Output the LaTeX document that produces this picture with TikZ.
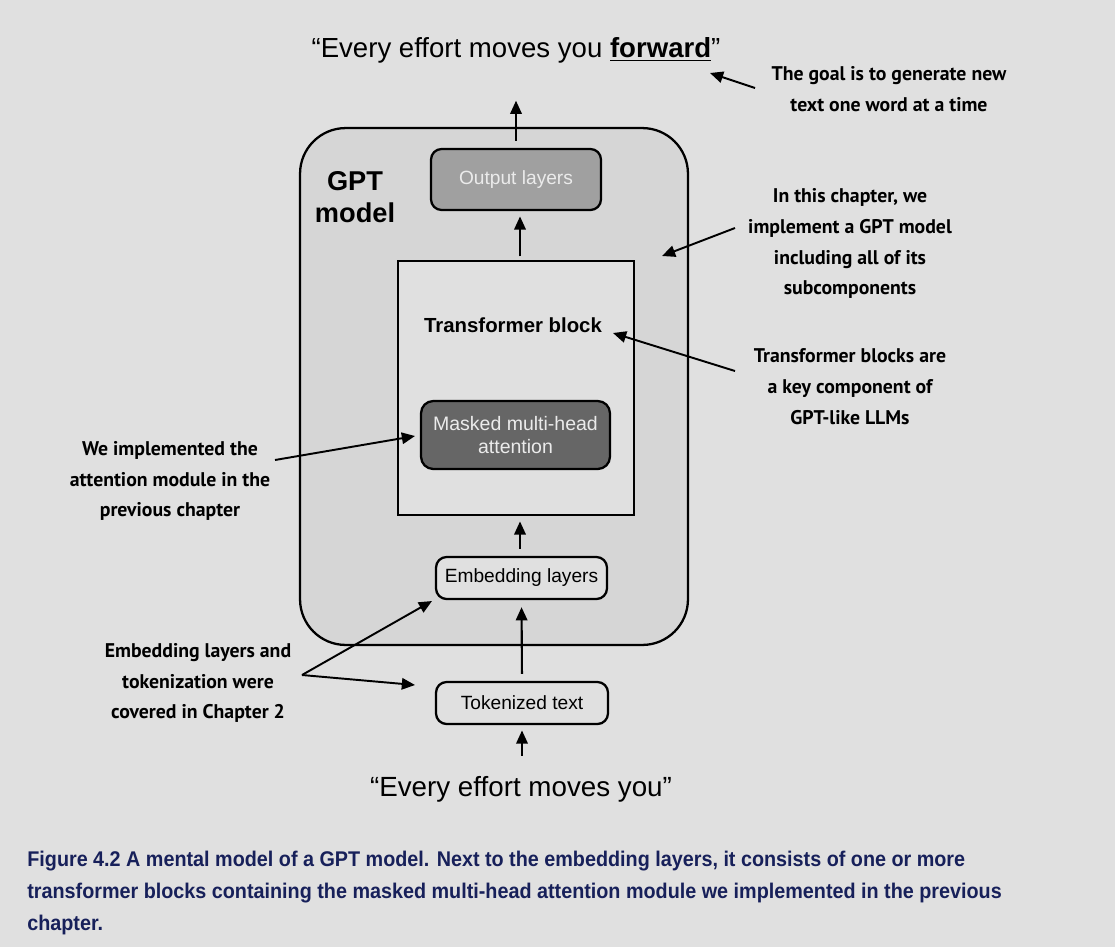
\documentclass[tikz,border=0pt]{standalone}
\usepackage{fontspec}
\setmainfont{Liberation Sans}
\newfontfamily\annfont{PT Sans}
\newfontfamily\capfont[FakeStretch=0.93]{Liberation Sans}
\usetikzlibrary{arrows.meta}
\definecolor{bg}{HTML}{E0E0E0}
\definecolor{gptfill}{HTML}{D6D6D6}
\definecolor{outfill}{HTML}{A0A0A0}
\definecolor{outtext}{HTML}{EBEBEB}
\definecolor{maskfill}{HTML}{666666}
\definecolor{capcol}{HTML}{17205A}
\tikzset{
  box/.style={draw=black, line width=1.3pt, rounded corners=6pt, inner sep=0pt, align=center},
  flow/.style={line width=1.2pt, -{Triangle[length=7.5pt,width=6.5pt]}},
  note/.style={line width=1.1pt, -{Triangle[length=7.5pt,width=6.5pt]}},
  ann/.style={font=\annfont\bfseries\fontsize{11.25}{17.6}\selectfont, align=center, text=black},
  boxtext/.style={font=\fontsize{10.9}{12.6}\selectfont},
}
\begin{document}
\begin{tikzpicture}[x=0.02cm, y=-0.02cm]
\fill[bg] (0,0) rectangle (1115,947);
\useasboundingbox (0,0) rectangle (1115,947);

% outer GPT model box
\node[draw=black, line width=1.3pt, fill=gptfill, rounded corners=26pt,
      minimum width=7.76cm, minimum height=10.34cm] (gpt) at (494,386.5) {};
\node[font=\bfseries\fontsize{15.5}{18}\selectfont, align=center] (gptlabel) at (355,197) {GPT\\model};

% output layers
\node[box, boxtext, fill=outfill, text=outtext,
      minimum width=3.4cm, minimum height=1.22cm] (out) at (516,179.5) {Output layers};

% transformer block
\node[draw=black, line width=1.3pt, fill=bg, minimum width=4.72cm, minimum height=5.08cm] (trans) at (516,388) {};
\node[font=\bfseries\fontsize{11.6}{13}\selectfont] (translabel) at (513,325) {Transformer block};

% masked multi-head attention
\node[box, fill=maskfill, text=outtext, font=\fontsize{11.1}{12.6}\selectfont,
      rounded corners=7pt, minimum width=3.78cm, minimum height=1.36cm] (mask) at (515.5,435) {Masked multi-head\\attention};

% embedding layers
\node[box, boxtext, fill=bg,
      minimum width=3.42cm, minimum height=0.84cm] (emb) at (521.5,578) {Embedding layers};

% tokenized text
\node[box, boxtext, fill=bg,
      minimum width=3.44cm, minimum height=0.84cm] (tok) at (522,703) {Tokenized text};

% texts
\node[font=\fontsize{15.7}{18}\selectfont] (toptext) at (516,50) {``Every effort moves you \underline{\textbf{forward}}''};
\node[font=\fontsize{15.8}{18}\selectfont] (bottext) at (521,789) {``Every effort moves you''};

% flow arrows
\draw[flow, shorten <=4pt, shorten >=18pt] (out.north) -- (toptext.south);
\draw[flow, shorten <=2pt, shorten >=3pt] (trans.north -| 520,0) -- (out.south -| 520,0);
\draw[flow, shorten <=4pt, shorten >=3pt] (emb.north -| 520,0) -- (trans.south -| 520,0);
\draw[flow, shorten <=4pt, shorten >=4pt] (tok.north) -- (emb.south);
\draw[flow, shorten <=8pt, shorten >=3pt] (bottext.north -| 522,0) -- (tok.south);

% annotations
\node[ann] (a1) at (889,89) {The goal is to generate new\\text one word at a time};
\node[ann] (a2) at (850,243.5) {In this chapter, we\\implement a GPT model\\including all of its\\subcomponents};
\node[ann] (a3) at (850,387) {Transformer blocks are\\a key component of\\GPT-like LLMs};
\node[ann] (a4) at (170,481) {We implemented the\\attention module in the\\previous chapter};
\node[ann] (a5) at (198,683) {Embedding layers and\\tokenization were\\covered in Chapter 2};

\coordinate (c1) at (755,88);
\coordinate (t1) at (710,73);
\draw[note] (c1) -- (t1);
\coordinate (c2) at (735,228);
\coordinate (t2) at (662,256);
\draw[note] (c2) -- (t2);
\coordinate (c3) at (735,371);
\coordinate (t3) at (613,333);
\draw[note] (c3) -- (t3);
\coordinate (c4) at (275,460);
\coordinate (t4) at (415,436);
\draw[note] (c4) -- (t4);
\coordinate (c5) at (302,675);
\coordinate (t5) at (432,601);
\coordinate (t6) at (415,685);
\draw[note] (c5) -- (t5);
\draw[note] (c5) -- (t6);

% caption
\node[anchor=north west, align=left, text=capcol, inner sep=0pt,
      font=\capfont\bfseries\fontsize{12.1}{18.1}\selectfont] (cap) at (27,851)
{Figure 4.2 A mental model of a GPT model. Next to the embedding layers, it consists of one or more\\
transformer blocks containing the masked multi-head attention module we implemented in the previous\\
chapter.};
\end{tikzpicture}
\end{document}
